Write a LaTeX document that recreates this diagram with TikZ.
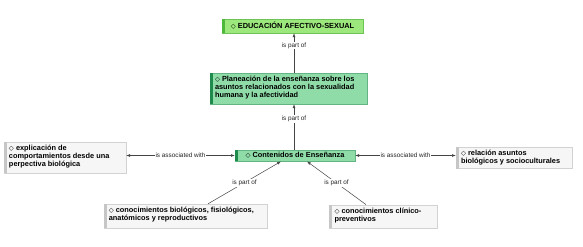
\documentclass[tikz,border=0pt]{standalone}
\usepackage{fontspec}
\setmainfont{Liberation Sans}
\newfontfamily\dvfont{DejaVu Sans}
\usetikzlibrary{arrows.meta}
\definecolor{topfill}{HTML}{9CE87C}
\definecolor{topstripe}{HTML}{4DB83A}
\definecolor{topborder}{HTML}{6CC456}
\definecolor{grnfill}{HTML}{8FDCA8}
\definecolor{grnborder}{HTML}{62B482}
\definecolor{grnstripe}{HTML}{1E8A4C}
\definecolor{gryfill}{HTML}{F6F6F6}
\definecolor{gryborder}{HTML}{D2D2D2}
\definecolor{grystripe}{HTML}{C6C6C6}
\definecolor{linkcol}{HTML}{444444}
\newcommand{\dmd}{{\dvfont\fontsize{6.5}{7}\selectfont ◇}\ }
\newcommand{\topbox}[3]{\parbox[c][#2bp][t]{#1bp}{\raggedright #3}}
\tikzset{
  x=1bp, y=-1bp,
  box/.style={rectangle, inner xsep=5bp, inner ysep=3bp,
    font=\fontsize{7.4}{8}\selectfont\bfseries},
  onebox/.style={rectangle, inner sep=0pt, font=\fontsize{7.4}{8}\selectfont\bfseries},
  topstyle/.style={fill=topfill, draw=topborder},
  grnbox/.style={fill=grnfill, draw=grnborder},
  grybox/.style={fill=gryfill, draw=gryborder},
  link/.style={draw=linkcol, line width=0.5pt, -{Latex[length=3.8bp,width=2.8bp]}},
  duallink/.style={draw=linkcol, line width=0.5pt, {Latex[length=3.8bp,width=2.8bp]}-{Latex[length=3.8bp,width=2.8bp]}},
  lbl/.style={fill=white, inner sep=1bp, font=\fontsize{6.4}{7}\selectfont, text=black!85}
}
\begin{document}
\begin{tikzpicture}
\useasboundingbox (0,0) rectangle (583,246);
% nodes
\node[onebox, topstyle, minimum width=141bp, minimum height=14bp] (top) at (292.5,26) {\dmd EDUCACIÓN AFECTIVO-SEXUAL};
\node[box, grnbox] (plan) at (288.5,88.5) {\topbox{147}{25}{\mbox{\dmd Planeación de la enseñanza sobre los}\\\mbox{asuntos relacionados con la sexualidad}\\humana y la afectividad}};
\node[onebox, grnbox, minimum width=120bp, minimum height=11.5bp] (cont) at (295,155.5) {\dmd Contenidos de Enseñanza};
\node[box, grybox] (expl) at (65,157.5) {\topbox{112}{25}{\dmd explicación de\\\mbox{comportamientos desde una}\\perpectiva biológica}};
\node[box, grybox] (rel) at (514,157.5) {\topbox{106}{15.6}{\dmd relación asuntos\\\mbox{biológicos y socioculturales}}};
\node[box, grybox] (biol) at (185.3,216) {\topbox{153}{18}{\mbox{\dmd conocimientos biológicos, fisiológicos,}\\anatómicos y reproductivos}};
\node[box, grybox] (clin) at (383.5,216.3) {\topbox{98}{17}{\mbox{\dmd conocimientos clínico-}\\preventivos}};
% stripes
\fill[topstripe] (top.north west) rectangle ([xshift=3bp]top.south west);
\fill[grnstripe] (plan.north west) rectangle ([xshift=3bp]plan.south west);
\fill[grnstripe] (cont.north west) rectangle ([xshift=3bp]cont.south west);
\fill[grystripe] (expl.north west) rectangle ([xshift=3bp]expl.south west);
\fill[grystripe] (rel.north west) rectangle ([xshift=3bp]rel.south west);
\fill[grystripe] (biol.north west) rectangle ([xshift=3bp]biol.south west);
\fill[grystripe] (clin.north west) rectangle ([xshift=3bp]clin.south west);
% connectors
\draw[link] (plan.north -| 294,0) -- (top.south -| 294,0) node[lbl, pos=0.69] {is part of};
\draw[link] (cont.north -| 294,0) -- (plan.south -| 294,0) node[lbl, pos=0.68] {is part of};
\draw[duallink] (cont.west) -- (expl.east |- cont.west) node[lbl, pos=0.5] {is associated with};
\draw[duallink] (cont.east) -- (rel.west |- cont.east) node[lbl, pos=0.5] {is associated with};
\draw[link] (biol.north -| 208,0) -- (cont.south -| 281,0) node[lbl, pos=0.5] {is part of};
\draw[link] (clin.north -| 366,0) -- (cont.south -| 307,0) node[lbl, pos=0.5] {is part of};
\end{tikzpicture}
\end{document}
